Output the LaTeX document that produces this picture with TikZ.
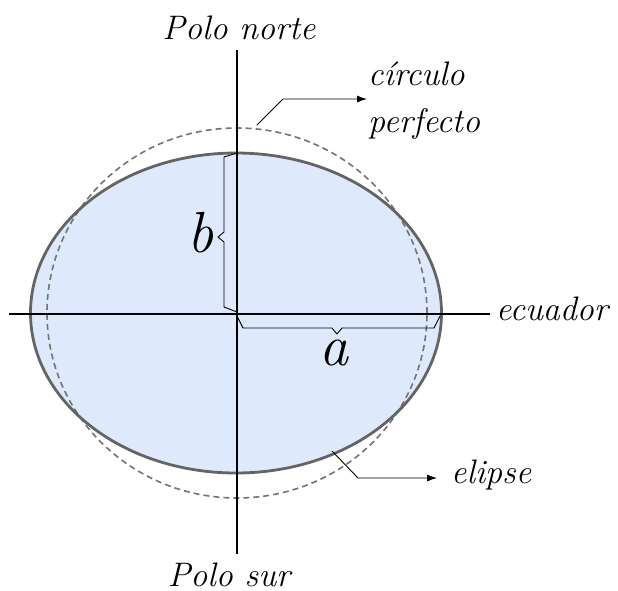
\documentclass[tikz,border=0pt]{standalone}
\usepackage{xcolor}
\usepackage{tikz}
\usetikzlibrary{arrows.meta}
\definecolor{elipsefill}{RGB}{222,234,252}
\definecolor{elipsedraw}{RGB}{100,100,100}
\definecolor{circulodraw}{RGB}{115,115,115}

\begin{document}
\begin{tikzpicture}[
  x=1pt, y=-1pt,
  axis/.style={line width=1.6pt, black},
  elipsestyle/.style={line width=2.8pt, draw=elipsedraw},
  circulostyle/.style={line width=1.6pt, draw=circulodraw, dash pattern=on 6pt off 4pt},
  brace/.style={line width=0.9pt, line join=miter},
  pointer/.style={line width=0.9pt, -{Latex[length=10pt,width=7pt]}},
  lbl/.style={font=\fontsize{34}{47}\selectfont\itshape, inner sep=0pt},
  big/.style={font=\fontsize{58}{58}\selectfont\itshape, inner sep=0pt},
]
\useasboundingbox (0,0) rectangle (618,590);
% shapes
\fill[elipsefill] (236,313) ellipse [x radius=205.5pt, y radius=160pt];
\draw[circulostyle] (237,313) ellipse [x radius=190pt, y radius=185pt];
\draw[elipsestyle] (236,313) ellipse [x radius=205.5pt, y radius=160pt];
% axes
\coordinate (N) at (237,50);
\coordinate (S) at (237,554);
\coordinate (W) at (9,314);
\coordinate (E) at (490,314);
\draw[axis] (N) -- (S);
\draw[axis] (W) -- (E);
% labels
\node[lbl, anchor=base] (norte) at (239,39) {Polo norte};
\node[lbl, anchor=base] (sur) at (229,586) {Polo sur};
\node[lbl, anchor=base west] (ecuador) at (496,320) {ecuador};
\node[lbl, anchor=base west, align=left] (circulo) at (368,132) {círculo\\perfecto};
\node[lbl, anchor=base west] (elipse) at (451,483) {elipse};
\node[big, anchor=base] (b) at (201,252) {b};
\node[big, anchor=base] (a) at (334,365) {a};
% braces
\draw[brace] (237,153) -- (224,157) -- (224,232) -- (218,237)
  -- (224,242) -- (224,307) -- (237,312);
\draw[brace] (237,316) -- (243,328) -- (332,328) -- (337,334)
  -- (342,328) -- (434,328) -- (440,316);
% pointers
\coordinate (cstart) at (257,125);
\coordinate (cbend) at (283,99);
\coordinate (estart) at (332,451);
\coordinate (ebend) at (358,478);
\draw[pointer] (cstart) -- (cbend) -- ([xshift=-1pt]cbend -| circulo.west);
\draw[pointer] (estart) -- (ebend) -- ([xshift=-14pt]ebend -| elipse.west);
\end{tikzpicture}
\end{document}
